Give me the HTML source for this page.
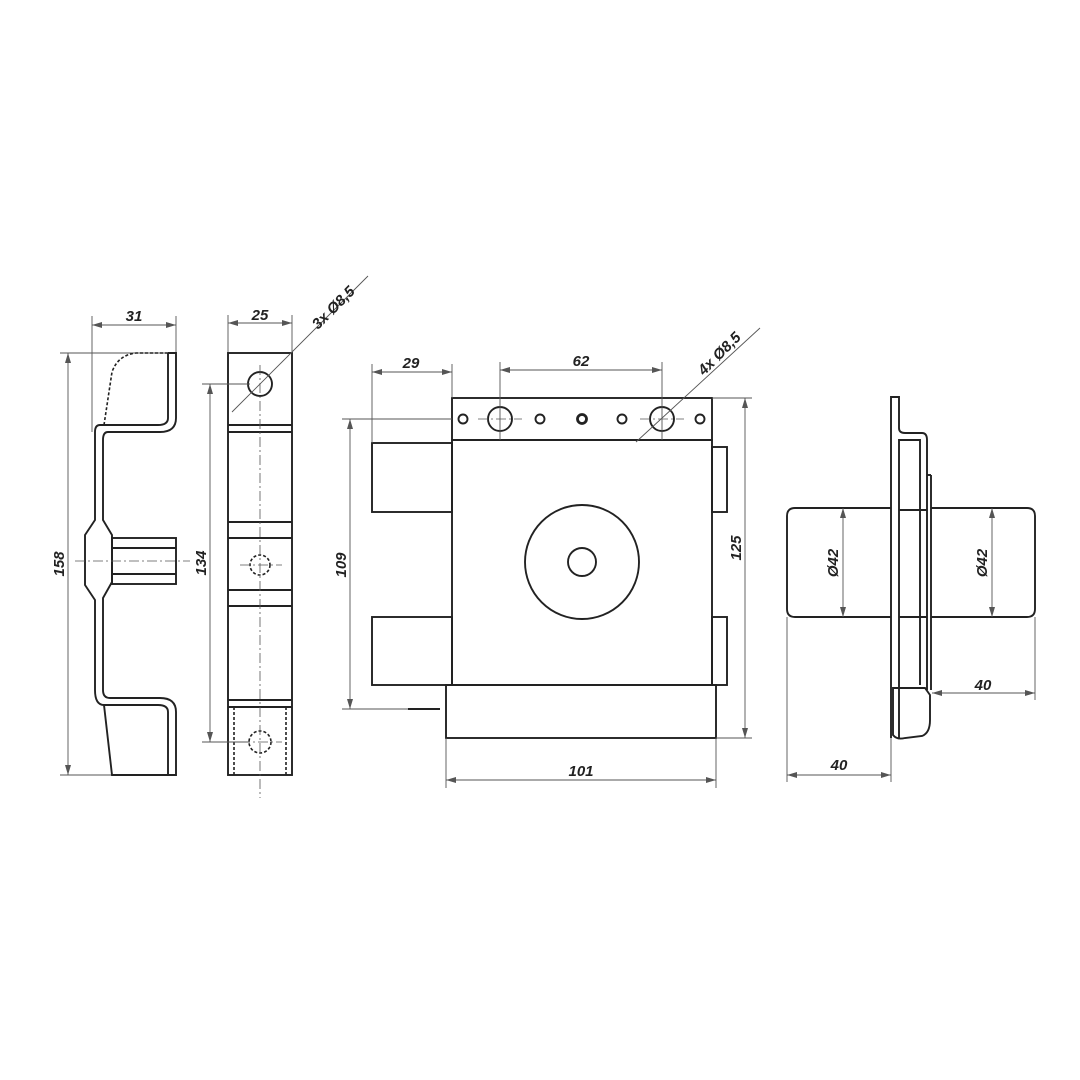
<!DOCTYPE html>
<html><head><meta charset="utf-8"><style>
html,body{margin:0;padding:0;background:#fff}
svg{display:block}
text{font-family:"Liberation Sans",sans-serif;font-size:15px;font-style:italic;font-weight:bold;fill:#222}
.o{fill:none;stroke:#222;stroke-width:1.9}
.d{fill:none;stroke:#555;stroke-width:0.9}
.c{fill:none;stroke:#555;stroke-width:0.8;stroke-dasharray:10 3 2 3}
.h{fill:none;stroke:#222;stroke-width:1.6;stroke-dasharray:3 2}
</style></head><body>
<svg width="1080" height="1080" viewBox="0 0 1080 1080">
<defs>
<marker id="a" viewBox="0 0 10 6" refX="10" refY="3" markerWidth="10" markerHeight="6" orient="auto-start-reverse" markerUnits="userSpaceOnUse"><path d="M0,0L10,3L0,6z" fill="#555"/></marker>
</defs>

<!-- PART 1 -->
<line class="d" x1="92" y1="316" x2="92" y2="432"/><line class="d" x1="176" y1="316" x2="176" y2="353"/>
<line class="d" x1="92" y1="325" x2="176" y2="325" marker-start="url(#a)" marker-end="url(#a)"/>
<text x="134" y="321" text-anchor="middle">31</text>
<line class="d" x1="60" y1="353" x2="176" y2="353"/><line class="d" x1="60" y1="775" x2="120" y2="775"/>
<line class="d" x1="68" y1="353" x2="68" y2="775" marker-start="url(#a)" marker-end="url(#a)"/>
<text transform="translate(64,564) rotate(-90)" text-anchor="middle">158</text>
<path class="h" d="M104,425 L112,372 Q118,355 136,353 L168,353"/>
<path class="o" d="M168,353 L176,353 L176,418 Q176,432 160,432 L108,432 Q103,432 103,440 L103,520 L112,535 L112,582 L103,598 L103,690 Q103,698 110,698 L160,698 Q176,698 176,712 L176,775 L112,775 L104,705"/>
<path class="o" d="M168,353 L168,418 Q168,425 158,425 L100,425 Q95,425 95,432 L95,520 L85,535 L85,585 L95,600 L95,690 Q95,705 104,705 L158,705 Q168,705 168,712 L168,775"/>
<rect class="o" x="112" y="538" width="64" height="46"/>
<line class="o" x1="112" y1="548" x2="176" y2="548"/><line class="o" x1="112" y1="574" x2="176" y2="574"/>
<line class="c" x1="75" y1="561" x2="190" y2="561"/>

<!-- PART 2 -->
<line class="d" x1="228" y1="315" x2="228" y2="353"/><line class="d" x1="292" y1="315" x2="292" y2="353"/>
<line class="d" x1="228" y1="323" x2="292" y2="323" marker-start="url(#a)" marker-end="url(#a)"/>
<text x="260" y="320" text-anchor="middle">25</text>
<rect class="o" x="228" y="353" width="64" height="422"/>
<line class="o" x1="228" y1="425" x2="292" y2="425"/><line class="o" x1="228" y1="432" x2="292" y2="432"/>
<line class="o" x1="228" y1="522" x2="292" y2="522"/><line class="o" x1="228" y1="538" x2="292" y2="538"/>
<line class="o" x1="228" y1="590" x2="292" y2="590"/><line class="o" x1="228" y1="606" x2="292" y2="606"/>
<line class="o" x1="228" y1="700" x2="292" y2="700"/><line class="o" x1="228" y1="707" x2="292" y2="707"/>
<line class="h" x1="234" y1="707" x2="234" y2="775"/><line class="h" x1="286" y1="707" x2="286" y2="775"/>
<circle class="o" cx="260" cy="384" r="12"/>
<circle class="h" cx="260" cy="565" r="10"/><circle class="h" cx="260" cy="742" r="11"/>
<line class="c" x1="260" y1="365" x2="260" y2="798"/>
<line class="c" x1="240" y1="565" x2="282" y2="565"/><line class="c" x1="240" y1="742" x2="282" y2="742"/>
<line class="d" x1="202" y1="384" x2="250" y2="384"/><line class="d" x1="202" y1="742" x2="250" y2="742"/>
<line class="d" x1="210" y1="384" x2="210" y2="742" marker-start="url(#a)" marker-end="url(#a)"/>
<text transform="translate(206,563) rotate(-90)" text-anchor="middle">134</text>
<line class="d" x1="232" y1="412" x2="368" y2="276"/>
<text transform="translate(318,330) rotate(-45)">3x  Ø8,5</text>

<!-- PART 3 -->
<rect class="o" x="452" y="398" width="260" height="42"/>
<rect class="o" x="452" y="440" width="260" height="245"/>
<rect class="o" x="372" y="443" width="80" height="69"/>
<rect class="o" x="372" y="617" width="80" height="68"/>
<rect class="o" x="712" y="447" width="15" height="65"/>
<rect class="o" x="712" y="617" width="15" height="68"/>
<rect class="o" x="446" y="685" width="270" height="53"/>
<circle class="o" cx="582" cy="562" r="57"/><circle class="o" cx="582" cy="562" r="14"/>
<circle class="o" cx="463" cy="419" r="4.5"/><circle class="o" cx="540" cy="419" r="4.5"/>
<circle class="o" cx="582" cy="419" r="4.5" style="stroke-width:2.8"/><circle class="o" cx="622" cy="419" r="4.5"/>
<circle class="o" cx="700" cy="419" r="4.5"/>
<circle class="o" cx="500" cy="419" r="12"/><circle class="o" cx="662" cy="419" r="12"/>
<line class="c" x1="478" y1="419" x2="522" y2="419"/><line class="c" x1="640" y1="419" x2="684" y2="419"/>
<line class="d" x1="372" y1="364" x2="372" y2="443"/><line class="d" x1="452" y1="364" x2="452" y2="398"/>
<line class="d" x1="372" y1="372" x2="452" y2="372" marker-start="url(#a)" marker-end="url(#a)"/>
<text x="411" y="368" text-anchor="middle">29</text>
<line class="d" x1="500" y1="362" x2="500" y2="440"/><line class="d" x1="662" y1="362" x2="662" y2="440"/>
<line class="d" x1="500" y1="370" x2="662" y2="370" marker-start="url(#a)" marker-end="url(#a)"/>
<text x="581" y="366" text-anchor="middle">62</text>
<line class="d" x1="342" y1="419" x2="452" y2="419"/><line class="d" x1="342" y1="709" x2="440" y2="709"/>
<line class="o" x1="408" y1="709" x2="440" y2="709"/>
<line class="d" x1="350" y1="419" x2="350" y2="709" marker-start="url(#a)" marker-end="url(#a)"/>
<text transform="translate(346,565) rotate(-90)" text-anchor="middle">109</text>
<line class="d" x1="712" y1="398" x2="752" y2="398"/><line class="d" x1="716" y1="738" x2="752" y2="738"/>
<line class="d" x1="745" y1="398" x2="745" y2="738" marker-start="url(#a)" marker-end="url(#a)"/>
<text transform="translate(741,548) rotate(-90)" text-anchor="middle">125</text>
<line class="d" x1="446" y1="738" x2="446" y2="788"/><line class="d" x1="716" y1="738" x2="716" y2="788"/>
<line class="d" x1="446" y1="780" x2="716" y2="780" marker-start="url(#a)" marker-end="url(#a)"/>
<text x="581" y="776" text-anchor="middle">101</text>
<line class="d" x1="636" y1="442" x2="760" y2="328"/>
<text transform="translate(704,376) rotate(-45)">4x  Ø8,5</text>

<!-- PART 4 -->
<path class="o" d="M891,738 L891,397 L899,397 L899,428 Q899,433 905,433 L922,433 Q927,433 927,440 L927,690"/>
<path class="o" d="M899,738 L899,440 L920,440 L920,685"/>
<line class="o" x1="899" y1="510" x2="927" y2="510"/><line class="o" x1="899" y1="617" x2="927" y2="617"/>
<line class="o" x1="927" y1="475" x2="931" y2="475"/><line class="o" x1="931" y1="475" x2="931" y2="690"/>
<path class="o" d="M893,688 L893,735 Q897,740 905,738 L922,736 Q930,733 930,720 L930,695 L925,688 Z"/>
<line class="o" x1="899" y1="688" x2="925" y2="688"/>
<path class="o" d="M891,508 L795,508 Q787,508 787,516 L787,609 Q787,617 795,617 L891,617"/>
<path class="o" d="M931,508 L1027,508 Q1035,508 1035,516 L1035,609 Q1035,617 1027,617 L931,617"/>
<line class="d" x1="843" y1="508" x2="843" y2="617" marker-start="url(#a)" marker-end="url(#a)"/>
<text transform="translate(838,563) rotate(-90)" text-anchor="middle">Ø42</text>
<line class="d" x1="992" y1="508" x2="992" y2="617" marker-start="url(#a)" marker-end="url(#a)"/>
<text transform="translate(987,563) rotate(-90)" text-anchor="middle">Ø42</text>
<line class="d" x1="1035" y1="617" x2="1035" y2="700"/>
<line class="d" x1="932" y1="693" x2="1035" y2="693" marker-start="url(#a)" marker-end="url(#a)"/>
<text x="983" y="690" text-anchor="middle">40</text>
<line class="d" x1="787" y1="617" x2="787" y2="782"/><line class="d" x1="891" y1="738" x2="891" y2="782"/>
<line class="d" x1="787" y1="775" x2="891" y2="775" marker-start="url(#a)" marker-end="url(#a)"/>
<text x="839" y="770" text-anchor="middle">40</text>
</svg>
</body></html>
